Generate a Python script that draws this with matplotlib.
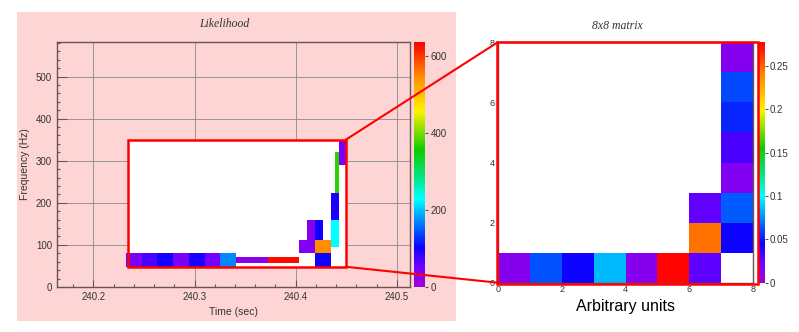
import numpy as np
import matplotlib
matplotlib.use("Agg")
import matplotlib.pyplot as plt
from matplotlib.colors import LinearSegmentedColormap, Normalize
from matplotlib.cm import ScalarMappable
from matplotlib.patches import Rectangle, ConnectionPatch

# ---- data: likelihood tiles (time start, time end, freq low, freq high, value)
tile_t0 = [240.232, 240.2476, 240.2632, 240.2788, 240.2944, 240.31, 240.3256,
           240.3412, 240.3724, 240.419,
           240.4036, 240.419, 240.435,
           240.4113, 240.419,
           240.435, 240.439, 240.443]
tile_t1 = [240.2476, 240.2632, 240.2788, 240.2944, 240.31, 240.3256, 240.3412,
           240.3724, 240.4036, 240.435,
           240.419, 240.435, 240.443,
           240.419, 240.4266,
           240.443, 240.443, 240.4496]
tile_f0 = [48, 48, 48, 48, 48, 48, 48,
           56, 56, 48,
           80, 80, 96,
           112, 112,
           160, 224, 290]
tile_f1 = [80, 80, 80, 80, 80, 80, 80,
           72, 72, 80,
           112, 112, 160,
           160, 160,
           224, 320, 350]
tile_val = [40, 70, 100, 40, 95, 45, 170,
            25, 630, 100,
            35, 545, 230,
            30, 100,
            95, 370, 45]

zoom_box = (240.234, 240.4496, 48, 350)

# ---- data: 8x8 matrix, row 0 at bottom, nan = empty
matrix = np.array([
    [0.012, 0.062, 0.045, 0.085, 0.012, 0.275, 0.028, np.nan],
    [np.nan] * 6 + [0.245, 0.045],
    [np.nan] * 6 + [0.027, 0.064],
    [np.nan] * 7 + [0.015],
    [np.nan] * 7 + [0.032],
    [np.nan] * 7 + [0.052],
    [np.nan] * 7 + [0.060],
    [np.nan] * 7 + [0.013],
])

# ROOT-like rainbow palette
cmap = LinearSegmentedColormap.from_list("rootpal", [
    (0.00, (0.62, 0.00, 0.85)),
    (0.08, (0.45, 0.00, 1.00)),
    (0.16, (0.05, 0.00, 1.00)),
    (0.23, (0.00, 0.35, 1.00)),
    (0.30, (0.00, 0.70, 1.00)),
    (0.36, (0.00, 1.00, 1.00)),
    (0.45, (0.00, 0.90, 0.50)),
    (0.56, (0.05, 0.80, 0.00)),
    (0.72, (1.00, 0.95, 0.00)),
    (0.86, (1.00, 0.55, 0.00)),
    (1.00, (1.00, 0.00, 0.00)),
])
cmap.set_bad("white")

W, H = 799, 332
pink = "#fdd5d5"
sans = "Liberation Sans"
serif = "Liberation Serif"
tick_col = "#333333"

fig = plt.figure(figsize=(W / 100, H / 100), dpi=100)
fig.patch.set_facecolor("white")


def fbox(x0, y0, x1, y1):
    # pixel box (top-left origin) -> figure fraction rect
    return [x0 / W, 1 - y1 / H, (x1 - x0) / W, (y1 - y0) / H]


# pink pad behind the left panel
fig.add_artist(Rectangle((17 / W, 1 - 321 / H), (456 - 17) / W, (321 - 12) / H,
                         transform=fig.transFigure, facecolor=pink,
                         edgecolor="none", zorder=0))


def style_axes(ax):
    for s in ax.spines.values():
        s.set_color("#6a5555")
        s.set_linewidth(1.0)
    ax.tick_params(which="both", direction="in", top=False, right=False,
                   colors="#6a5555", labelcolor=tick_col, labelsize=7)
    ax.tick_params(which="major", length=5, width=0.8)
    ax.tick_params(which="minor", length=2.5, width=0.8)
    ax.grid(True, which="major", color="#8a8a8a", lw=0.6)
    ax.set_axisbelow(True)
    for lab in ax.get_xticklabels() + ax.get_yticklabels():
        lab.set_family(sans)


# ---------------- left panel
axL = fig.add_axes(fbox(57, 42, 410, 287))
axL.set_facecolor(pink)
normL = Normalize(0, 636)
tx0, tx1, fy0, fy1 = zoom_box
axL.add_patch(Rectangle((tx0, fy0), tx1 - tx0, fy1 - fy0, facecolor="white",
                        edgecolor="none", zorder=1))
t0 = np.array(tile_t0)
t1 = np.array(tile_t1)
f0 = np.array(tile_f0)
f1 = np.array(tile_f1)
axL.bar(t0, f1 - f0, width=t1 - t0, bottom=f0, align="edge",
        color=cmap(normL(np.array(tile_val))), edgecolor="none", zorder=2)
axL.add_patch(Rectangle((tx0, fy0), tx1 - tx0, fy1 - fy0, facecolor="none",
                        edgecolor="red", lw=1.8, zorder=3))
axL.set_xlim(240.164, 240.513)
axL.set_ylim(0, 582)
axL.set_xticks([240.2, 240.3, 240.4, 240.5])
axL.set_xticklabels(["240.2", "240.3", "240.4", "240.5"])
axL.set_xticks(np.arange(240.18, 240.513, 0.02), minor=True)
axL.set_yticks([0, 100, 200, 300, 400, 500])
axL.set_yticks(np.arange(0, 582, 20), minor=True)
style_axes(axL)
axL.tick_params(which="major", axis="y", length=7)
axL.set_xlabel("Time (sec)", family=sans, fontsize=7.5, color="#333333",
               labelpad=4)
axL.set_ylabel("Frequency (Hz)", family=sans, fontsize=7.5, color="#333333",
               labelpad=4)
fig.text(224 / W, 1 - 24 / H, "Likelihood", family=serif, style="italic",
         fontsize=8.5, color="#333333", ha="center", va="center")

caxL = fig.add_axes(fbox(414, 42, 425, 287))
cbL = fig.colorbar(ScalarMappable(normL, cmap), cax=caxL)
cbL.set_ticks([0, 200, 400, 600])
cbL.outline.set_visible(False)
caxL.tick_params(direction="out", length=2.5, width=0.8, colors="#555555",
                 labelcolor=tick_col, labelsize=7, pad=1.5)
for lab in caxL.get_yticklabels():
    lab.set_family(sans)

# ---------------- right panel
axR = fig.add_axes(fbox(497.7, 42.3, 753.3, 282.7))
normR = Normalize(0, 0.277)
edges = np.arange(9)
axR.pcolormesh(edges, edges, np.ma.masked_invalid(matrix), cmap=cmap,
               norm=normR, zorder=1)
axR.set_xlim(0, 8)
axR.set_ylim(0, 8)
axR.set_xticks([0, 2, 4, 6, 8])
axR.set_yticks([0, 2, 4, 6, 8])
axR.set_xticks(np.arange(0, 8.01, 0.5), minor=True)
axR.set_yticks(np.arange(0, 8.01, 0.5), minor=True)
style_axes(axR)
axR.tick_params(labelsize=6.5, pad=2)
axR.grid(True, which="major", color="#9a9a9a", lw=0.6, zorder=2)
axR.set_xlabel("Arbitrary units", family=sans, fontsize=11.5, color="black",
               labelpad=3)
fig.text(617 / W, 1 - 26 / H, "8x8 matrix", family=serif, style="italic",
         fontsize=8.5, color="#333333", ha="center", va="center")

caxR = fig.add_axes(fbox(759, 42.3, 765, 282.7))
cbR = fig.colorbar(ScalarMappable(normR, cmap), cax=caxR)
cbR.set_ticks([0, 0.05, 0.1, 0.15, 0.2, 0.25])
cbR.set_ticklabels(["0", "0.05", "0.1", "0.15", "0.2", "0.25"])
cbR.outline.set_visible(False)
caxR.tick_params(direction="out", length=2.5, width=0.8, colors="#555555",
                 labelcolor=tick_col, labelsize=7, pad=1)
for lab in caxR.get_yticklabels():
    lab.set_family(sans)

# red frame round the matrix
fig.add_artist(Rectangle((497 / W, 1 - 284.3 / H), (758.3 - 497) / W,
                         (284.3 - 41.7) / H, transform=fig.transFigure,
                         facecolor="none", edgecolor="red", lw=1.8, zorder=10))

# zoom connectors
for fy, ry in [(fy1, 1.0), (fy0, 0.0)]:
    con = ConnectionPatch(xyA=(tx1, fy), coordsA=axL.transData,
                          xyB=(0, ry), coordsB=axR.transAxes,
                          color="red", lw=1.5, zorder=10)
    fig.add_artist(con)

fig.savefig("out.png", dpi=100)
